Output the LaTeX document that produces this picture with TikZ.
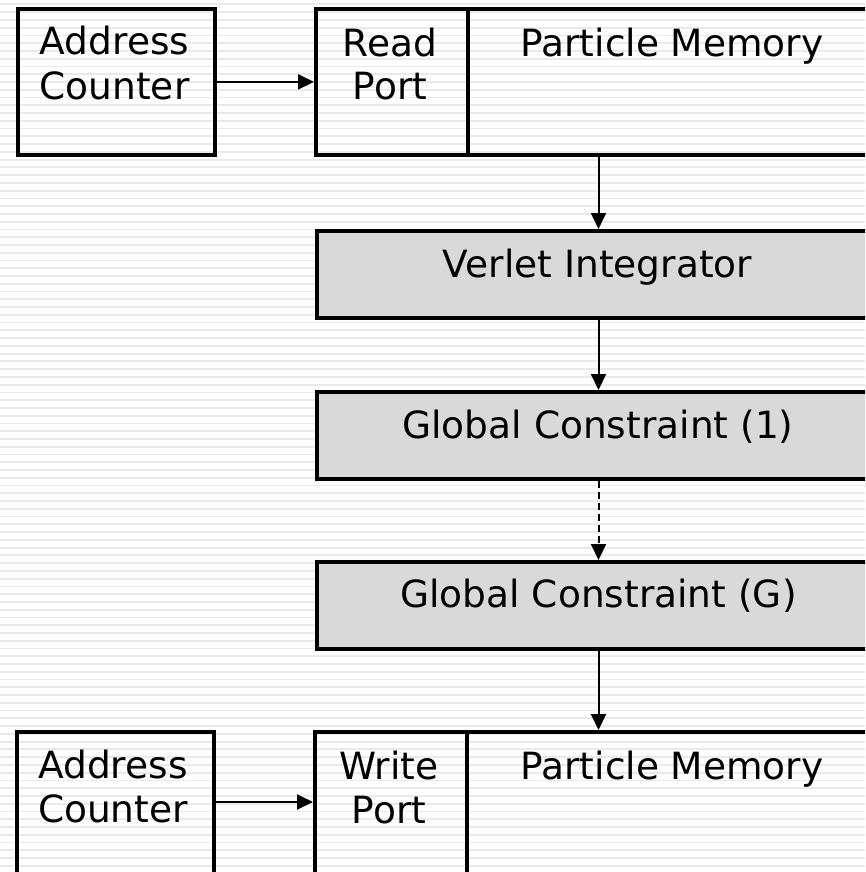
\documentclass[tikz,border=0pt]{standalone}
\usepackage{fontspec}
\setmainfont{DejaVu Sans}
\usetikzlibrary{arrows.meta}
\definecolor{stripe}{RGB}{234,234,234}
\definecolor{boxgray}{RGB}{217,217,217}
\begin{document}
\begin{tikzpicture}[x=1pt,y=-1pt,
  box/.style={draw=black, line width=3.8pt, inner sep=0pt, anchor=north west},
  gbox/.style={box, fill=boxgray},
  lbl/.style={anchor=base, inner sep=0pt, font=\fontsize{37.5}{44}\selectfont},
  arr/.style={line width=2pt, -{Triangle[length=16pt,width=15pt]}},
  darr/.style={arr, dash pattern=on 7pt off 4pt}]
\useasboundingbox (0,0) rectangle (865,872);
\clip (0,0) rectangle (865,872);
% background stripes
\fill[white] (0,0) rectangle (865,872);
\foreach \k in {0,...,112}{
  \draw[stripe, line width=1.8pt] (0,{4.4+7.76*\k}) -- (865,{4.4+7.76*\k});
}
% boxes
\node[box, minimum width=197pt, minimum height=146pt] (ac1) at (16,7) {};
\node[box, minimum width=152pt, minimum height=146pt] (rp) at (314,7) {};
\node[box, minimum width=450pt, minimum height=146pt] (pm1) at (466,7) {};
\node[gbox, minimum width=600pt, minimum height=87pt] (vi) at (315,229) {};
\node[gbox, minimum width=600pt, minimum height=87pt] (gc1) at (315,390) {};
\node[gbox, minimum width=600pt, minimum height=87pt] (gcg) at (315,560) {};
\node[box, minimum width=197pt, minimum height=200pt] (ac2) at (15,730) {};
\node[box, minimum width=152pt, minimum height=200pt] (wp) at (313,730) {};
\node[box, minimum width=450pt, minimum height=200pt] (pm2) at (465,730) {};
% labels
\node[lbl] (t1) at (114.5,55) {Address};
\node[lbl] (t2) at (114.5,100) {Counter};
\node[lbl] (t3) at (390,57) {Read};
\node[lbl] (t4) at (390,100) {Port};
\node[lbl] (t5) at (672,56.5) {Particle Memory};
\node[lbl] (t6) at (597.5,277) {Verlet Integrator};
\node[lbl] (t7) at (598,438) {Global Constraint (1)};
\node[lbl] (t8) at (598.5,607) {Global Constraint (G)};
\node[lbl] (t9) at (113,778) {Address};
\node[lbl] (t10) at (113,822) {Counter};
\node[lbl] (t11) at (389,779) {Write};
\node[lbl] (t12) at (389,823) {Port};
\node[lbl] (t13) at (672,779) {Particle Memory};
% connectors
\coordinate (cx) at (598.5,0);
\draw[arr] (ac1.east) -- (rp.west);
\path (ac2.north east) ++(0,72) coordinate (a2s);
\draw[arr] (a2s) -- (a2s -| wp.west);
\draw[arr] (pm1.south -| cx) -- (vi.north -| cx);
\draw[arr] (vi.south -| cx) -- (gc1.north -| cx);
\draw[darr] (gc1.south -| cx) -- (gcg.north -| cx);
\draw[arr] (gcg.south -| cx) -- (pm2.north -| cx);
\end{tikzpicture}
\end{document}
